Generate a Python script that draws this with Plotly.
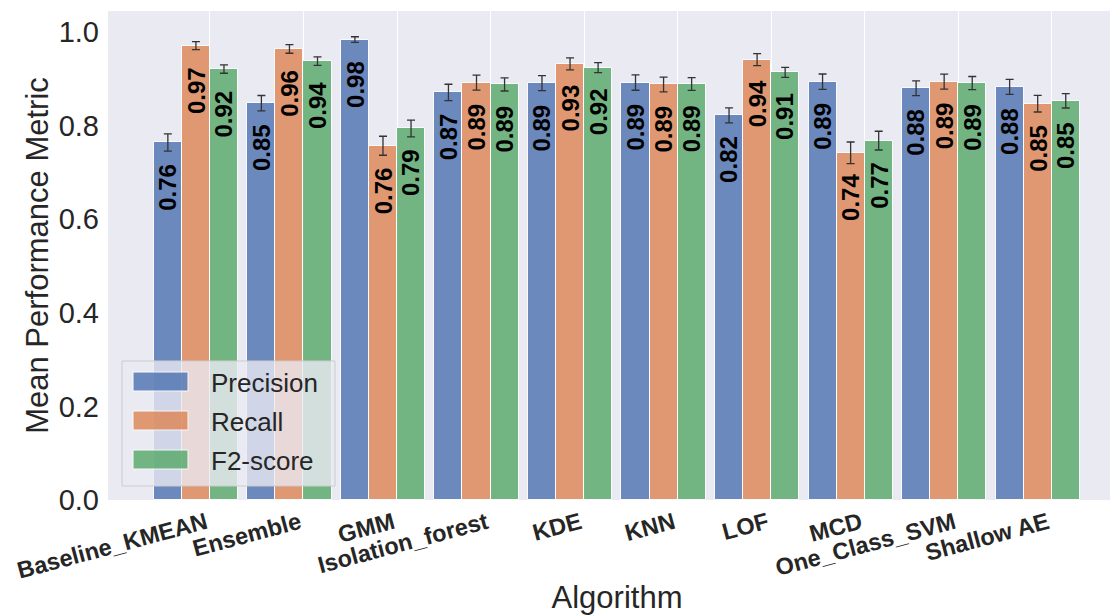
import numpy as np
import plotly.graph_objects as go

categories = ["Baseline_KMEAN", "Ensemble", "GMM", "Isolation_forest", "KDE",
              "KNN", "LOF", "MCD", "One_Class_SVM", "Shallow AE"]
precision = [0.764, 0.848, 0.984, 0.871, 0.891, 0.892, 0.822, 0.894, 0.880, 0.883]
recall = [0.971, 0.964, 0.757, 0.892, 0.932, 0.888, 0.941, 0.742, 0.894, 0.847]
f2score = [0.921, 0.938, 0.794, 0.888, 0.924, 0.889, 0.914, 0.768, 0.891, 0.853]
precision_err = [0.0185, 0.0164, 0.006, 0.0175, 0.016, 0.0164, 0.016, 0.0164, 0.0157, 0.016]
recall_err = [0.0085, 0.0093, 0.0203, 0.016, 0.0128, 0.0157, 0.0128, 0.023, 0.016, 0.0178]
f2score_err = [0.009, 0.009, 0.018, 0.014, 0.0107, 0.0135, 0.0107, 0.020, 0.014, 0.0153]
series_names = ["Precision", "Recall", "F2-score"]
yticks = [0.0, 0.2, 0.4, 0.6, 0.8, 1.0]

colors = ["#4C72B0", "#DD8452", "#55A868"]
BAR_W = 0.3
offsets = [-0.45, -0.15, 0.15]
FONT = "Liberation Sans, Arial, sans-serif"
TXT = "#262626"

idx = np.arange(len(categories))
series = [(precision, precision_err), (recall, recall_err), (f2score, f2score_err)]

fig = go.Figure()
annotations = []
for (vals, errs), name, col, off in zip(series, series_names, colors, offsets):
    xs = idx + off
    fig.add_trace(go.Bar(
        x=xs, y=vals, width=BAR_W, name=name, showlegend=False,
        marker=dict(color=col, opacity=0.8, line=dict(color="white", width=1)),
        error_y=dict(type="data", array=errs, visible=True, color="#333333",
                     thickness=1.3, width=4),
    ))
    for x, v in zip(xs, vals):
        annotations.append(dict(
            x=x, y=v, xref="x", yref="y", text=f"{v:.2f}", showarrow=False,
            textangle=-90, yanchor="top", xanchor="center", yshift=-19,
            font=dict(family=FONT, size=24, color="black", weight="bold"),
        ))

# page offset of the document body (default 8px margin)
OFF = 8
# plot area in page pixels
PL, PT, PW, PH = 108, 11, 1018, 489
FIG_W, FIG_H = 1118, 615

def px(xp):
    return (xp - PL) / PW
def py(yp):
    return (PT + PH - yp) / PH

shapes = [dict(type="rect", xref="paper", yref="paper",
               x0=px(122), x1=px(335), y0=py(486), y1=py(361),
               fillcolor="rgba(234,234,242,0.8)", line=dict(color="#CCCCCC", width=1),
               layer="above")]
centers = [381.5, 420.5, 459.5]
for name, col, cy in zip(series_names, colors, centers):
    shapes.append(dict(type="rect", xref="paper", yref="paper",
                       x0=px(133), x1=px(188), y0=py(cy + 9.5), y1=py(cy - 9.5),
                       fillcolor=col, opacity=0.8, line=dict(color="white", width=1),
                       layer="above"))
    annotations.append(dict(x=px(209), y=py(cy + 1), xref="paper", yref="paper",
                            text=name, showarrow=False, xanchor="left", yanchor="middle",
                            font=dict(family=FONT, size=26, color=TXT)))

x_left = -1.09
x_right = x_left + PW / 93.53

fig.update_layout(
    width=FIG_W, height=FIG_H,
    margin=dict(l=PL - OFF, r=FIG_W - (PL - OFF) - PW, t=PT - OFF,
                b=FIG_H - (PT - OFF) - PH, pad=0, autoexpand=False),
    paper_bgcolor="white", plot_bgcolor="#EAEAF2",
    bargap=0, barmode="overlay",
    shapes=shapes, annotations=annotations,
    font=dict(family=FONT, color=TXT),
    xaxis=dict(
        range=[x_left, x_right], tickmode="array", tickvals=idx, ticktext=categories,
        tickangle=-15, tickfont=dict(family=FONT, size=23.5, color=TXT, weight="bold"),
        ticklabelstandoff=4, ticklabelshift=-4,
        showgrid=True, gridcolor="white", gridwidth=1, zeroline=False,
        showline=False, ticks="", automargin=False,
        title=dict(text="Algorithm", font=dict(family=FONT, size=31, color=TXT), standoff=3),
    ),
    yaxis=dict(
        range=[0, 1.045], tickmode="array", tickvals=yticks,
        ticktext=[f"{t:.1f}" for t in yticks],
        tickfont=dict(family=FONT, size=29, color=TXT),
        showgrid=False, zeroline=False, showline=False, ticks="", automargin=False,
        ticklabelstandoff=8,
        title=dict(text="Mean Performance Metric", font=dict(family=FONT, size=31, color=TXT), standoff=0),
    ),
)

fig.write_html("out.html")
